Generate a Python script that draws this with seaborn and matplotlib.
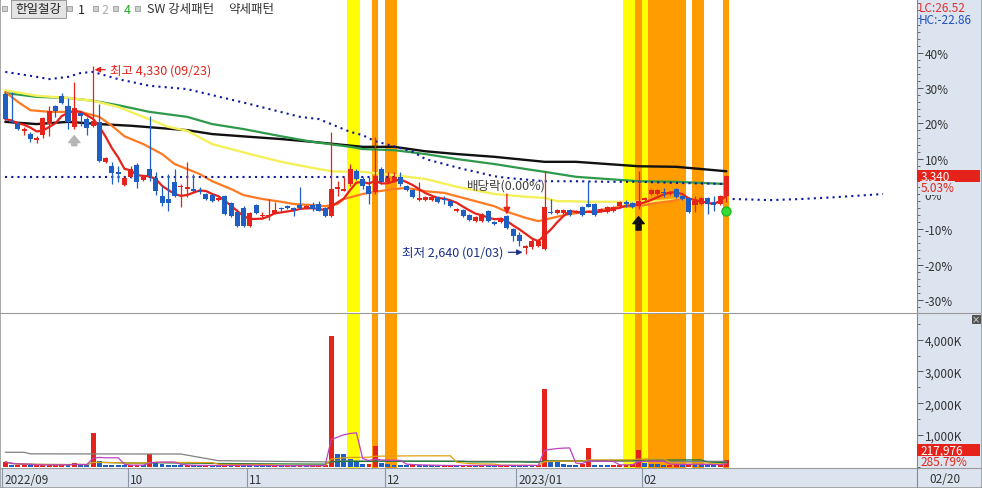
import numpy as np
import pandas as pd
import matplotlib
matplotlib.use('Agg')
import matplotlib.pyplot as plt
import seaborn as sns
from matplotlib.patches import Rectangle
from matplotlib.lines import Line2D

# ---------------- data ----------------
stock_name = '한일철강'
opens = [4080, 3840, 3810, 3750, 3720, 3665, 3710, 3810, 3975, 4065,
         3975, 3785, 3910, 3855, 3795, 3830, 3470, 3430, 3380, 3260,
         3335, 3440, 3305, 3405, 3325, 3160, 3135, 3290, 3245, 3225,
         3225, 3205, 3180, 3170, 3125, 3160, 3100, 3020, 3055, 2890,
         3080, 2980, 2980, 3000, 3055, 3070, 3055, 3080, 3055, 3080,
         3090, 3055, 2980, 3225, 3205, 3270, 3385, 3315, 3250, 3200,
         3405, 3290, 3295, 3335, 3250, 3215, 3125, 3125, 3125, 3155,
         3135, 3115, 3025, 3035, 2990, 2935, 2935, 3025, 2930, 2930,
         2980, 2865, 2810, 2695, 2705, 2710, 2685, 3020, 3010, 3010,
         3035, 3020, 3065, 3090, 3090, 3025, 3020, 3025, 3070, 3110,
         3100, 3070, 3125, 3180, 3180, 3200, 3180, 3225, 3160, 3145,
         3080, 3090, 3145, 3110, 3090, 3160]
highs = [4100, 4100, 3830, 3785, 3740, 3700, 3875, 3975, 3980, 4090,
         4045, 4190, 3930, 3875, 4330, 3990, 3515, 3470, 3430, 3335,
         3430, 3460, 3340, 3885, 3380, 3250, 3360, 3405, 3270, 3470,
         3360, 3245, 3190, 3180, 3155, 3170, 3110, 3045, 3070, 3020,
         3090, 3020, 3135, 3110, 3065, 3080, 3065, 3245, 3080, 3110,
         3115, 3065, 3740, 3295, 3335, 3450, 3405, 3335, 3335, 3695,
         3425, 3380, 3380, 3380, 3260, 3225, 3290, 3160, 3160, 3160,
         3160, 3125, 3055, 3045, 3000, 2980, 3010, 3035, 2935, 2975,
         2990, 2875, 2840, 2720, 2775, 2775, 3385, 3135, 3045, 3045,
         3045, 3035, 3070, 3295, 3100, 3055, 3070, 3070, 3115, 3125,
         3110, 3385, 3155, 3225, 3225, 3235, 3205, 3235, 3170, 3155,
         3160, 3155, 3155, 3160, 3170, 3350]
lows = [3840, 3820, 3755, 3710, 3650, 3640, 3685, 3700, 3875, 3990,
        3765, 3765, 3795, 3710, 3785, 3470, 3460, 3270, 3290, 3250,
        3325, 3235, 3295, 3295, 3170, 3070, 3025, 3155, 3065, 3155,
        3200, 3180, 3125, 3110, 3115, 2990, 2975, 2885, 2885, 2885,
        3000, 2955, 2945, 3000, 3025, 3045, 2980, 3045, 3045, 3025,
        3025, 2975, 2975, 3160, 3205, 3250, 3305, 3225, 3090, 3180,
        3270, 3280, 3290, 3250, 3205, 3145, 3115, 3115, 3115, 3100,
        3090, 3065, 3020, 2975, 2935, 2930, 2930, 2930, 2900, 2920,
        2865, 2755, 2710, 2640, 2685, 2705, 2675, 3000, 3000, 3000,
        2980, 3010, 2980, 3065, 2980, 3020, 3010, 3020, 3065, 3065,
        3055, 3045, 3115, 3170, 3170, 3155, 3170, 3145, 3125, 3010,
        3020, 3080, 3000, 3025, 3080, 3110]
closes = [3855, 3830, 3765, 3765, 3675, 3685, 3865, 3930, 3930, 4000,
          3830, 3955, 3885, 3775, 3840, 3475, 3505, 3370, 3360, 3325,
          3405, 3290, 3335, 3340, 3205, 3100, 3100, 3160, 3250, 3245,
          3205, 3200, 3135, 3115, 3145, 3000, 2980, 2890, 2890, 3010,
          3010, 2990, 2990, 3035, 3045, 3055, 3035, 3055, 3070, 3045,
          3025, 2980, 3225, 3245, 3225, 3405, 3315, 3250, 3180, 3340,
          3290, 3325, 3335, 3270, 3215, 3155, 3145, 3155, 3155, 3110,
          3125, 3070, 3045, 2980, 2945, 2975, 3000, 2935, 2910, 2965,
          2875, 2800, 2755, 2710, 2755, 2755, 3065, 3010, 3035, 3035,
          2990, 3025, 2990, 3065, 2990, 3045, 3065, 3065, 3110, 3090,
          3065, 3115, 3145, 3215, 3215, 3190, 3200, 3155, 3135, 3020,
          3115, 3145, 3090, 3080, 3160, 3340]
volumes_k = [150, 60, 60, 62, 55, 56, 58, 60, 62, 65,
             55, 120, 50, 45, 1070, 180, 60, 55, 50, 45,
             48, 60, 50, 390, 150, 80, 60, 50, 45, 48,
             40, 38, 42, 36, 32, 60, 45, 52, 45, 40,
             38, 36, 32, 35, 30, 32, 30, 42, 32, 36,
             40, 45, 4130, 410, 405, 250, 150, 80, 90, 640,
             120, 100, 70, 60, 55, 62, 50, 45, 40, 35,
             38, 42, 36, 40, 45, 35, 50, 40, 30, 35,
             60, 45, 40, 38, 30, 42, 2450, 180, 160, 100,
             70, 65, 90, 600, 70, 60, 50, 55, 60, 65,
             80, 513, 120, 100, 80, 60, 70, 80, 75, 90,
             70, 65, 60, 55, 75, 217.976]

month_start_idx = [0, 20, 39, 61, 82, 102]
month_labels = ['2022/09', '10', '11', '12', '2023/01', '02']
last_date_label = '02/20'
high_date = '09/23'
low_date = '01/03'
pct_ticks = [-30, -20, -10, 0, 10, 20, 30, 40]
vol_ticks_k = [1000, 2000, 3000, 4000]
change_pct = 5.03
lc_text = 'LC:26.52'
hc_text = 'HC:-22.86'
vol_ratio_text = '285.79%'

# moving-average / channel lines (index, price)
ma20_idx = [0, 2, 4, 7, 10, 12, 15, 17, 19, 22, 25, 27, 29, 31, 33, 36, 38, 41, 44, 46,
            49, 51, 53, 54, 57, 59, 62, 64, 67, 70, 72, 75, 78, 80, 83, 85, 88, 90, 93, 96,
            98, 101, 104, 106, 108]
ma20_val = [4100, 4010, 3935, 3920, 3920, 3920, 3875, 3795, 3700, 3630, 3540, 3450, 3405, 3360,
            3295, 3225, 3170, 3135, 3110, 3090, 3080, 3070, 3090, 3135, 3180, 3200, 3225, 3235,
            3205, 3190, 3160, 3115, 3070, 3020, 2965, 2935, 2975, 3000, 3020, 3045, 3065, 3070,
            3100, 3115, 3135]
ma60_idx = [0, 5, 10, 14, 18, 22, 26, 29, 33, 39, 44, 49, 52, 55, 57, 62, 67, 72, 78, 83,
            86, 88, 90, 93, 96, 99, 101, 104, 108]
ma60_val = [4115, 4065, 4045, 4020, 3965, 3875, 3785, 3750, 3630, 3540, 3470, 3415, 3385, 3380,
            3380, 3350, 3315, 3245, 3180, 3155, 3145, 3115, 3115, 3110, 3110, 3110, 3110, 3115, 3135]
ma120_idx = [0, 5, 10, 14, 18, 23, 29, 33, 38, 44, 49, 55, 57, 62, 67, 72, 78, 83, 86, 91,
             96, 101, 107, 115]
ma120_val = [4090, 4055, 4045, 4020, 3980, 3920, 3875, 3810, 3765, 3700, 3650, 3605, 3585, 3575,
             3540, 3495, 3450, 3405, 3380, 3335, 3315, 3295, 3290, 3270]
ma240_idx = [0, 5, 10, 15, 20, 29, 33, 39, 44, 49, 57, 62, 67, 72, 78, 86, 91, 96, 101, 107, 115]
ma240_val = [3830, 3810, 3830, 3810, 3795, 3755, 3720, 3695, 3675, 3650, 3605, 3605, 3565, 3540,
             3515, 3470, 3470, 3450, 3430, 3425, 3385]
upper_idx = [0, 4, 7, 10, 12, 14, 18, 23, 29, 39, 47, 50, 55, 57, 59, 62, 65, 67, 70, 73,
             75, 78, 80, 86, 91, 96, 101, 107, 115]
upper_val = [4280, 4245, 4215, 4235, 4270, 4280, 4215, 4155, 4125, 3990, 3875, 3855, 3740, 3710,
             3655, 3610, 3560, 3495, 3450, 3405, 3380, 3340, 3325, 3295, 3295, 3290, 3290, 3280, 3270]
lower_idx = [0, 62]
lower_val = [3335, 3335]
lead_idx = [116, 122, 127, 132, 140]
lead_val = [3135, 3125, 3135, 3150, 3180]
volgray_idx = [0, 3, 4, 28, 34, 52, 53, 86, 87, 115]
volgray_val = [455, 455, 405, 400, 190, 150, 180, 165, 175, 170]

strong_days = [55, 56, 99, 100, 102]
weak_days = [59, 61, 62, 101, 103, 104, 105, 106, 107, 108, 110, 111, 115]
gray_signal_days = [11]
black_signal_days = [101]
green_signal_days = [115]
dividend_day = 80
dividend_text = '배당락(0.00%)'

# ---------------- style ----------------
sns.set_style('white')
plt.rcParams['font.family'] = ['Noto Sans CJK KR', 'DejaVu Sans']
plt.rcParams['axes.unicode_minus'] = False

RED = '#e5231b'
BLUE = '#1f5fc4'
NAVY = '#1a2f8a'
BG = '#dce4f0'
AXC = '#7d8a9c'

W, H = 982, 489
fig = plt.figure(figsize=(W / 100, H / 100), dpi=100)
fig.patch.set_facecolor('white')


def fx(p):
    return p / W


def fy(p):
    return 1 - p / H


fig.add_artist(Rectangle((fx(917), 0), fx(982) - fx(917), 1, transform=fig.transFigure,
                         fc=BG, ec='none', zorder=-10))
fig.add_artist(Rectangle((0, 0), 1, fy(469), transform=fig.transFigure,
                         fc=BG, ec='none', zorder=-10))

x0, x1 = fx(2), fx(917)
ax = fig.add_axes([x0, fy(313), x1 - x0, (313 - 1) / H])
axv = fig.add_axes([x0, fy(469), x1 - x0, (469 - 315) / H])
axd = fig.add_axes([x0, 0, x1 - x0, fy(469)])

n = len(closes)
idx = np.arange(n)
o = np.array(opens, float)
c = np.array(closes, float)
hi_a = np.array(highs, float)
lo_a = np.array(lows, float)
xmin = -0.526
xmax = xmin + 915 / 6.27
for a in (ax, axv, axd):
    a.set_xlim(xmin, xmax)

base = closes[-1] / (1 + change_pct / 100)
ax.set_ylim(base * (1 - 0.3343), base * (1 + 0.5496))
axv.set_ylim(-40, 4810)


def runs(days):
    days = sorted(days)
    out = []
    s = p = days[0]
    for d in days[1:]:
        if d == p + 1:
            p = d
        else:
            out.append((s, p))
            s = p = d
    out.append((s, p))
    return out


for a in (ax, axv):
    for s, e in runs(strong_days):
        a.axvspan(s - 0.5, e + 0.5, color='#ffff00', lw=0, zorder=0.5)
    for s, e in runs(weak_days):
        a.axvspan(s - 0.5, e + 0.5, color='#ff9c00', lw=0, zorder=0.5)

# moving averages
ma5 = pd.Series(c).rolling(5, min_periods=1).mean()
sns.lineplot(x=ma240_idx, y=ma240_val, ax=ax, color='#111111', lw=1.7, zorder=2)
sns.lineplot(x=ma120_idx, y=ma120_val, ax=ax, color='#2e9a4a', lw=1.6, zorder=2)
sns.lineplot(x=ma60_idx, y=ma60_val, ax=ax, color='#f4f05a', lw=1.7, zorder=2)
sns.lineplot(x=ma20_idx, y=ma20_val, ax=ax, color='#ff7a22', lw=1.6, zorder=2)
sns.lineplot(x=upper_idx, y=upper_val, ax=ax, color='#0b1aa0', lw=1.5,
             linestyle=(0, (1, 2.0)), zorder=2.5)
sns.lineplot(x=lower_idx, y=lower_val, ax=ax, color='#0b1aa0', lw=1.5,
             linestyle=(0, (1, 2.0)), zorder=2.5)
sns.lineplot(x=lead_idx, y=lead_val, ax=ax, color='#0b1aa0', lw=1.5,
             linestyle=(0, (1, 2.0)), zorder=2.5)
sns.lineplot(x=idx, y=ma5, ax=ax, color=RED, lw=1.6, zorder=3)

# candles
col = np.where(c >= o, RED, BLUE)
ax.vlines(idx, lo_a, hi_a, colors=col, lw=0.9, zorder=4)
body_h = np.maximum(np.abs(c - o), 10)
ax.bar(idx, body_h, bottom=np.minimum(o, c), width=0.8, color=col, lw=0, zorder=5)

# volume
v = np.array(volumes_k, float)
vcol = [RED] + [RED if v[i] >= v[i - 1] else BLUE for i in range(1, n)]
axv.bar(idx, v, width=0.78, color=vcol, lw=0, zorder=3)
vs = pd.Series(v)
sns.lineplot(x=volgray_idx, y=volgray_val, ax=axv, color='#808080', lw=0.9, zorder=4)
sns.lineplot(x=idx, y=vs.rolling(60, min_periods=1).mean(), ax=axv, color='#1f7a3a', lw=0.9, zorder=4)
sns.lineplot(x=idx, y=vs.rolling(20, min_periods=1).mean(), ax=axv, color='#e0a010', lw=0.9, zorder=4)
sns.lineplot(x=idx, y=vs.rolling(5, min_periods=1).mean(), ax=axv, color='#c040c0', lw=0.9, zorder=4)

# axes styling
for a in (ax, axv):
    a.set_facecolor('white')
    for s in ('top', 'left', 'bottom'):
        a.spines[s].set_visible(False)
    a.spines['right'].set_color(AXC)
    a.spines['right'].set_linewidth(0.8)
    a.set_xticks([])
    a.set_xlabel('')
    a.set_ylabel('')
    a.yaxis.tick_right()
    a.tick_params(axis='y', which='major', direction='out', length=4, width=0.7,
                  color='#555555', pad=1.5, labelsize=8.5, labelcolor='#333333')
    a.tick_params(axis='y', which='minor', direction='out', length=2, width=0.6, color='#555555')

ax.set_yticks([base * (1 + p / 100) for p in pct_ticks])
ax.set_yticklabels([f'{p}%' for p in pct_ticks])
ax.set_yticks([base * (1 + p / 100) for p in range(-32, 55, 2)], minor=True)
axv.set_yticks(vol_ticks_k)
axv.set_yticklabels([f'{t:,}K' for t in vol_ticks_k])
axv.set_yticks(list(range(0, 4800, 500)), minor=True)

axd.set_facecolor(BG)
axd.set_ylim(0, 1)
axd.axis('off')
for mi, lab in zip(month_start_idx, month_labels):
    axd.axvline(mi - 0.5, color='#8a96a8', lw=0.8)
    axd.text(mi - 0.5 + 0.3, 0.42, lab, ha='left', va='center', fontsize=8.5, color='#333333')
fig.text(fx(929), fy(480), last_date_label, ha='left', va='center', fontsize=8.5, color='#333333')

# separators / border
for py in (313.5, 469):
    fig.add_artist(Line2D([0, 1], [fy(py), fy(py)], transform=fig.transFigure, color='#9a9a9a', lw=0.8))
fig.add_artist(Line2D([fx(917), fx(917)], [0, fy(469)], transform=fig.transFigure, color=AXC, lw=0.8))
fig.add_artist(Rectangle((0, 0), 1, 1, transform=fig.transFigure, fill=False, ec='#9a9a9a', lw=1.2))

# annotations
ih = int(np.argmax(hi_a))
il = int(np.argmin(lo_a))
ax.annotate(f'최고 {highs[ih]:,} ({high_date})', xy=(ih + 0.25, highs[ih] - 30),
            xytext=(ih + 2.7, highs[ih] - 30), ha='left', va='center', color=RED, fontsize=9,
            arrowprops=dict(arrowstyle='-|>', color=RED, lw=0.9, mutation_scale=8,
                            shrinkA=1, shrinkB=0), zorder=7)
ax.annotate(f'최저 {lows[il]:,} ({low_date})', xy=(il - 0.5, lows[il] + 15),
            xytext=(il - 3.5, lows[il] + 15), ha='right', va='center', color=NAVY, fontsize=9,
            arrowprops=dict(arrowstyle='-|>', color=NAVY, lw=0.9, mutation_scale=8,
                            shrinkA=1, shrinkB=0), zorder=7)
ax.annotate('', xy=(dividend_day, highs[dividend_day] + 5),
            xytext=(dividend_day, highs[dividend_day] + 190),
            arrowprops=dict(arrowstyle='-|>', color=RED, lw=1.0, mutation_scale=10,
                            shrinkA=0, shrinkB=0), zorder=7)
ax.text(dividend_day, highs[dividend_day] + 270, dividend_text, ha='center', va='center',
        fontsize=9, color='#404040', zorder=7)

arrow_style = 'simple,head_length=0.55,head_width=0.9,tail_width=0.4'
for d in gray_signal_days:
    ax.annotate('', xy=(d, lows[d] - 60), xytext=(d, lows[d] - 150),
                arrowprops=dict(arrowstyle=arrow_style, color='#b5b5b5', mutation_scale=9,
                                shrinkA=0, shrinkB=0), zorder=7)
for d in black_signal_days:
    ax.annotate('', xy=(d, lows[d] - 70), xytext=(d, lows[d] - 190),
                arrowprops=dict(arrowstyle=arrow_style, color='#111111', mutation_scale=9,
                                shrinkA=0, shrinkB=0), zorder=7)
for d in green_signal_days:
    ax.plot([d], [lows[d] - 80], marker='o', ms=6.5, color='#33dd33', mec='#22bb22', zorder=7)

# current price label
ax.add_patch(Rectangle((1.0, closes[-1] - 54), 0.0689, 108, transform=ax.get_yaxis_transform(),
                       clip_on=False, fc=RED, ec='none', zorder=8))
ax.text(1.004, closes[-1], f'{closes[-1]:,}', transform=ax.get_yaxis_transform(), ha='left',
        va='center', color='white', fontsize=8.5, zorder=9, clip_on=False)
ax.text(1.004, closes[-1] - 105, f'{change_pct:.2f}%', transform=ax.get_yaxis_transform(),
        ha='left', va='center', color=RED, fontsize=8.5, zorder=9, clip_on=False,
        bbox=dict(boxstyle='square,pad=0.05', fc=BG, ec='none'))

axv.add_patch(Rectangle((1.0, 0.08), 0.0689, 0.078, transform=axv.transAxes, clip_on=False,
                        fc=RED, ec='none', zorder=8))
axv.text(1.004, 0.119, f'{round(volumes_k[-1] * 1000):,}', transform=axv.transAxes, ha='left',
         va='center', color='white', fontsize=8.5, zorder=9, clip_on=False)
axv.text(1.004, 0.04, vol_ratio_text, transform=axv.transAxes, ha='left', va='center',
         color=RED, fontsize=8.5, zorder=9, clip_on=False)

# close button
fig.add_artist(Rectangle((fx(972), fy(324)), fx(8), 8 / H, transform=fig.transFigure,
                         fc='#555555', ec='#333333', lw=0.5))
fig.text(fx(976), fy(320), '×', ha='center', va='center', fontsize=6, color='white')

# top-right labels
fig.text(fx(919), fy(8), lc_text, ha='left', va='center', fontsize=8.5, color='#e03030')
fig.text(fx(919), fy(20), hc_text, ha='left', va='center', fontsize=8.5, color='#2050c0')

# legend row
for sx in (2, 67, 93, 113, 135):
    fig.add_artist(Rectangle((fx(sx), fy(12)), fx(5), 5 / H, transform=fig.transFigure,
                             fc='#d0d0d0', ec='#8a8a8a', lw=0.5))
fig.add_artist(Rectangle((fx(11), fy(19)), fx(55), 18 / H, transform=fig.transFigure,
                         fc='#e4e4e4', ec='#9a9a9a', lw=0.7))
fig.text(fx(38.5), fy(10), stock_name, ha='center', va='center', fontsize=9, color='#222222')
fig.text(fx(81.5), fy(10), '1', ha='center', va='center', fontsize=9, color='#222222')
fig.text(fx(105), fy(10), '2', ha='center', va='center', fontsize=9, color='#aaaaaa')
fig.text(fx(127), fy(10), '4', ha='center', va='center', fontsize=9, color='#22aa22')
fig.text(fx(147), fy(10), 'SW 강세패턴', ha='left', va='center', fontsize=9, color='#333333')
fig.text(fx(228), fy(10), '약세패턴', ha='left', va='center', fontsize=9, color='#333333')

fig.savefig('out.png', dpi=100)
